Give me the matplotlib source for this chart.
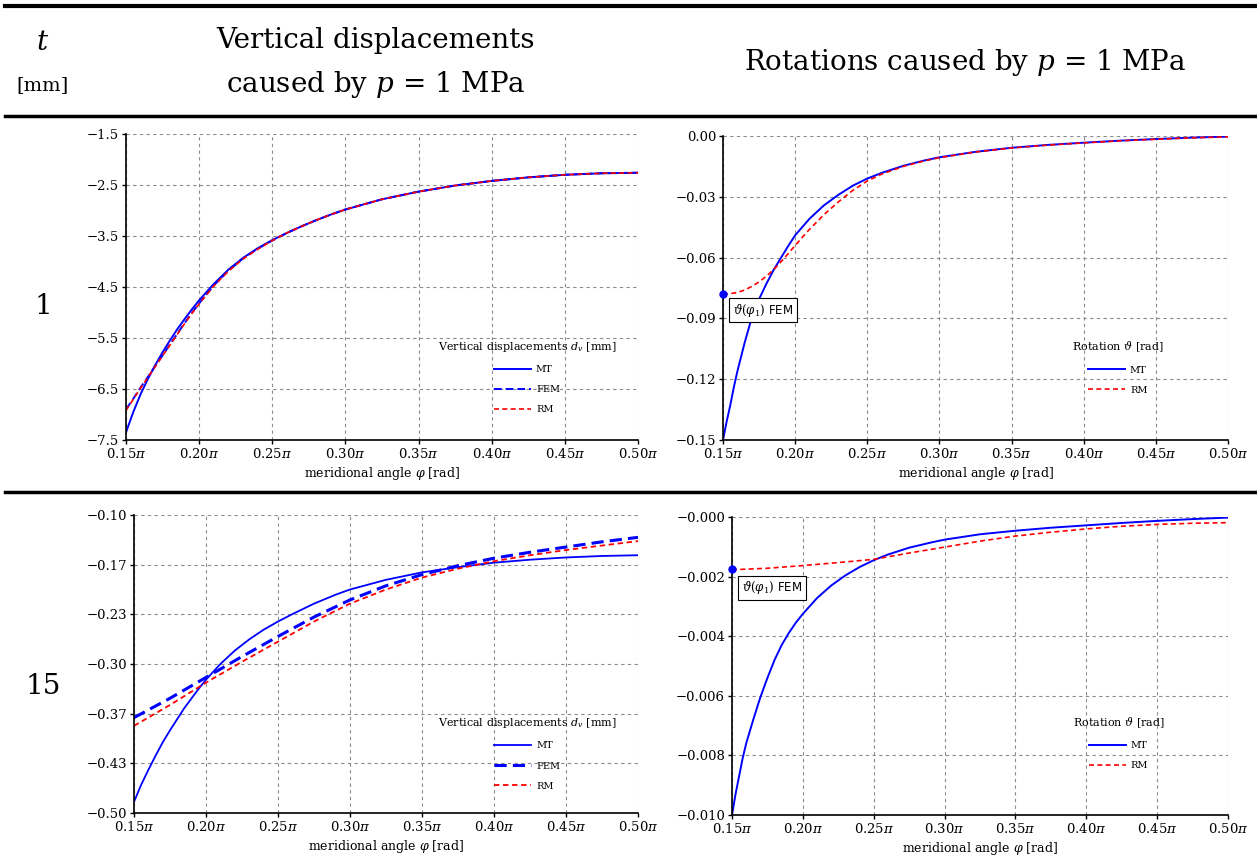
import matplotlib
matplotlib.use("Agg")
import matplotlib.pyplot as plt
import numpy as np
from matplotlib.lines import Line2D

plt.rcParams["font.family"] = ["DejaVu Serif"]
plt.rcParams["mathtext.fontset"] = "dejavuserif"

# ---- data (x in units of pi) ----
# t = 1 mm, vertical displacements [mm]
x_disp1 = [0.15, 0.155, 0.16, 0.165, 0.17, 0.175, 0.18, 0.185, 0.19, 0.195, 0.20, 0.21, 0.22, 0.23,
           0.24, 0.25, 0.26, 0.27, 0.28, 0.29, 0.30, 0.325, 0.35, 0.375, 0.40, 0.425, 0.45, 0.475, 0.50]
mt_disp1 = [-7.35, -6.95, -6.60, -6.30, -6.03, -5.78, -5.55, -5.33, -5.13, -4.94, -4.76, -4.44, -4.16,
            -3.93, -3.74, -3.58, -3.44, -3.31, -3.19, -3.08, -2.98, -2.78, -2.63, -2.51, -2.42, -2.35,
            -2.30, -2.27, -2.26]
fem_disp1 = [-6.90, -6.69, -6.47, -6.26, -6.05, -5.84, -5.63, -5.42, -5.21, -5.01, -4.82, -4.47, -4.18,
             -3.94, -3.75, -3.59, -3.44, -3.31, -3.19, -3.08, -2.98, -2.78, -2.63, -2.51, -2.42, -2.35,
             -2.30, -2.27, -2.26]
rm_disp1 = [-6.92, -6.70, -6.48, -6.27, -6.06, -5.85, -5.64, -5.43, -5.22, -5.02, -4.83, -4.48, -4.19,
            -3.95, -3.76, -3.59, -3.44, -3.31, -3.19, -3.08, -2.98, -2.78, -2.63, -2.51, -2.42, -2.35,
            -2.30, -2.27, -2.26]

# t = 1 mm, rotations [rad]
x_rot1_mt = [0.15, 0.1525, 0.155, 0.1575, 0.16, 0.165, 0.17, 0.175, 0.18, 0.185, 0.19, 0.195, 0.20,
             0.21, 0.22, 0.23, 0.24, 0.25, 0.26, 0.275, 0.29, 0.30, 0.325, 0.35, 0.375, 0.40, 0.425,
             0.45, 0.475, 0.50]
mt_rot1 = [-0.150, -0.141, -0.133, -0.124, -0.116, -0.102, -0.0895, -0.0805, -0.0730, -0.0662,
           -0.0603, -0.0545, -0.0490, -0.0408, -0.0342, -0.0290, -0.0245, -0.0210, -0.0182, -0.0147,
           -0.0120, -0.0105, -0.0078, -0.0058, -0.0044, -0.0033, -0.0023, -0.0015, -0.0008, -0.0003]
x_rot1_rm = [0.15, 0.155, 0.16, 0.165, 0.17, 0.175, 0.18, 0.185, 0.19, 0.195, 0.20, 0.21, 0.22, 0.23,
             0.24, 0.25, 0.26, 0.275, 0.29, 0.30, 0.325, 0.35, 0.375, 0.40, 0.425, 0.45, 0.475, 0.50]
rm_rot1 = [-0.0780, -0.0778, -0.0772, -0.0760, -0.0742, -0.0720, -0.0692, -0.0660, -0.0622, -0.0582,
           -0.0540, -0.0460, -0.0388, -0.0325, -0.0268, -0.0222, -0.0188, -0.0150, -0.0122, -0.0107,
           -0.0079, -0.0059, -0.0045, -0.0034, -0.0024, -0.0016, -0.0009, -0.0004]
fem_rot1 = -0.078

# t = 15 mm, vertical displacements [mm]
x_disp15_mt = [0.15, 0.155, 0.16, 0.165, 0.17, 0.175, 0.18, 0.185, 0.19, 0.195, 0.20, 0.21, 0.22, 0.23,
               0.24, 0.25, 0.26, 0.275, 0.29, 0.30, 0.325, 0.35, 0.375, 0.40, 0.425, 0.45, 0.475, 0.50]
mt_disp15 = [-0.485, -0.462, -0.442, -0.423, -0.405, -0.389, -0.374, -0.359, -0.346, -0.333, -0.321,
             -0.300, -0.282, -0.267, -0.254, -0.243, -0.233, -0.219, -0.207, -0.200, -0.187, -0.177,
             -0.170, -0.164, -0.160, -0.157, -0.155, -0.154]
x_disp15 = [0.15, 0.175, 0.20, 0.225, 0.25, 0.275, 0.30, 0.325, 0.35, 0.375, 0.40, 0.425, 0.45, 0.475, 0.50]
fem_disp15 = [-0.372, -0.346, -0.318, -0.290, -0.263, -0.237, -0.214, -0.195, -0.180, -0.168, -0.158,
              -0.150, -0.143, -0.136, -0.130]
rm_disp15 = [-0.383, -0.355, -0.325, -0.297, -0.270, -0.243, -0.219, -0.200, -0.184, -0.172, -0.162,
             -0.154, -0.147, -0.141, -0.135]

# t = 15 mm, rotations [rad]
x_rot15_mt = [0.15, 0.1525, 0.155, 0.1575, 0.16, 0.165, 0.17, 0.175, 0.18, 0.185, 0.19, 0.195, 0.20,
              0.21, 0.22, 0.23, 0.24, 0.25, 0.26, 0.275, 0.29, 0.30, 0.325, 0.35, 0.375, 0.40, 0.425,
              0.45, 0.475, 0.50]
mt_rot15 = [-0.0100, -0.0093, -0.0087, -0.0081, -0.0076, -0.0068, -0.00605, -0.0054, -0.0048, -0.0043,
            -0.0039, -0.00355, -0.00325, -0.00272, -0.0023, -0.00196, -0.00168, -0.00145, -0.00126,
            -0.00103, -0.00086, -0.00076, -0.00058, -0.00046, -0.00036, -0.00028, -0.00020, -0.00013,
            -0.00007, -0.00002]
x_rot15_rm = [0.15, 0.175, 0.20, 0.225, 0.25, 0.275, 0.30, 0.325, 0.35, 0.375, 0.40, 0.425, 0.45, 0.475, 0.50]
rm_rot15 = [-0.00177, -0.00172, -0.00163, -0.00153, -0.00142, -0.00121, -0.00101, -0.00081, -0.00064,
            -0.00051, -0.00040, -0.00031, -0.00025, -0.00021, -0.00019]
fem_rot15 = -0.00175

x_ticks = [0.15, 0.20, 0.25, 0.30, 0.35, 0.40, 0.45, 0.50]
x_ticklabels = [r"$0.15\pi$", r"$0.20\pi$", r"$0.25\pi$", r"$0.30\pi$",
                r"$0.35\pi$", r"$0.40\pi$", r"$0.45\pi$", r"$0.50\pi$"]

W, H = 1257, 867
fig = plt.figure(figsize=(W / 100, H / 100), dpi=100)


def add_ax(x0, y0, x1, y1):
    return fig.add_axes([x0 / W, 1 - y1 / H, (x1 - x0) / W, (y1 - y0) / H])


def style(ax, yticks, ylabels):
    ax.set_xlim(0.15, 0.50)
    ax.set_ylim(yticks[-1], yticks[0])
    ax.set_xticks(x_ticks)
    ax.set_xticklabels(x_ticklabels, fontsize=9.5)
    ax.set_yticks(yticks)
    ax.set_yticklabels(ylabels, fontsize=9.5)
    ax.grid(True, color="#8c8c8c", linestyle=(0, (3, 3)), linewidth=0.8)
    ax.spines["top"].set_visible(False)
    ax.spines["right"].set_visible(False)
    ax.spines["left"].set_linewidth(1.2)
    ax.spines["bottom"].set_linewidth(1.2)
    ax.tick_params(length=3, width=1, pad=2)
    ax.set_xlabel(r"meridional angle $\varphi$ [rad]", fontsize=9, labelpad=3)
    for sp in ("left", "bottom"):
        ax.spines[sp].set_zorder(5)


def add_legend(ax, title, anchor):
    ax.legend(title=title, loc="lower right", bbox_to_anchor=anchor, frameon=False,
              fontsize=7, title_fontsize=8, handlelength=3.8, labelspacing=1.15,
              handletextpad=0.5)


def add_note(ax, yval, offset):
    ax.plot([0.15], [yval], "o", color="blue", ms=5, clip_on=False, zorder=6)
    ax.annotate(r"$\vartheta(\varphi_1)$ FEM", xy=(0.15, yval), xytext=offset,
                textcoords="offset points", fontsize=8.5, family="DejaVu Sans",
                bbox=dict(boxstyle="square,pad=0.3", fc="white", ec="black", lw=0.8))


# ---- top left ----
ax1 = add_ax(126, 134, 638, 440)
ax1.plot(x_disp1, mt_disp1, color="blue", lw=1.4, label="MT")
ax1.plot(x_disp1, fem_disp1, color="blue", lw=1.4, ls=(0, (4, 2)), label="FEM")
ax1.plot(x_disp1, rm_disp1, color="red", lw=1.2, ls=(0, (3, 2)), label="RM")
style(ax1, [-1.5, -2.5, -3.5, -4.5, -5.5, -6.5, -7.5],
      ["−1.5", "−2.5", "−3.5", "−4.5", "−5.5", "−6.5", "−7.5"])
add_legend(ax1, r"Vertical displacements $d_v$ [mm]", (0.975, 0.055))

# ---- top right ----
ax2 = add_ax(723, 136, 1228, 440)
ax2.plot(x_rot1_mt, mt_rot1, color="blue", lw=1.4, label="MT")
ax2.plot(x_rot1_rm, rm_rot1, color="red", lw=1.2, ls=(0, (3, 2)), label="RM")
add_note(ax2, fem_rot1, (7, -14))
style(ax2, [0.0, -0.03, -0.06, -0.09, -0.12, -0.15],
      ["0.00", "−0.03", "−0.06", "−0.09", "−0.12", "−0.15"])
add_legend(ax2, r"Rotation $\vartheta$ [rad]", (0.89, 0.12))

# ---- bottom left ----
ax3 = add_ax(134, 515, 638, 813)
ax3.plot(x_disp15_mt, mt_disp15, color="blue", lw=1.3, label="MT")
ax3.plot(x_disp15, fem_disp15, color="blue", lw=2.2, ls=(0, (4, 2)), label="FEM")
ax3.plot(x_disp15, rm_disp15, color="red", lw=1.3, ls=(0, (3, 2)), label="RM")
yt3 = [-0.10, -0.10 - 0.4 / 6, -0.10 - 0.8 / 6, -0.30, -0.10 - 1.6 / 6, -0.10 - 2.0 / 6, -0.50]
style(ax3, yt3, ["−0.10", "−0.17", "−0.23", "−0.30", "−0.37", "−0.43", "−0.50"])
add_legend(ax3, r"Vertical displacements $d_v$ [mm]", (0.975, 0.045))

# ---- bottom right ----
ax4 = add_ax(732, 517, 1228, 815)
ax4.plot(x_rot15_mt, mt_rot15, color="blue", lw=1.4, label="MT")
ax4.plot(x_rot15_rm, rm_rot15, color="red", lw=1.2, ls=(0, (3, 2)), label="RM")
add_note(ax4, fem_rot15, (7, -16))
style(ax4, [0.0, -0.002, -0.004, -0.006, -0.008, -0.010],
      ["−0.000", "−0.002", "−0.004", "−0.006", "−0.008", "−0.010"])
add_legend(ax4, r"Rotation $\vartheta$ [rad]", (0.89, 0.12))

# ---- table frame and headers ----
for yy, lw in [(6, 3.0), (116, 2.5), (492, 2.5)]:
    fig.add_artist(Line2D([5 / W, 1.0], [1 - yy / H, 1 - yy / H], color="black", lw=lw))

fig.text(43 / W, 1 - 43 / H, r"$t$", fontsize=20, ha="center", va="center")
fig.text(43 / W, 1 - 85 / H, "[mm]", fontsize=14, ha="center", va="center")
fig.text(376 / W, 1 - 40 / H, "Vertical displacements", fontsize=20, ha="center", va="center")
fig.text(376 / W, 1 - 85 / H, r"caused by $p$ = 1 MPa", fontsize=20, ha="center", va="center")
fig.text(965 / W, 1 - 63 / H, r"Rotations caused by $p$ = 1 MPa", fontsize=20, ha="center", va="center")
fig.text(43 / W, 1 - 306 / H, "1", fontsize=20, ha="center", va="center")
fig.text(43 / W, 1 - 686 / H, "15", fontsize=20, ha="center", va="center")

fig.savefig("out.png", dpi=100)
